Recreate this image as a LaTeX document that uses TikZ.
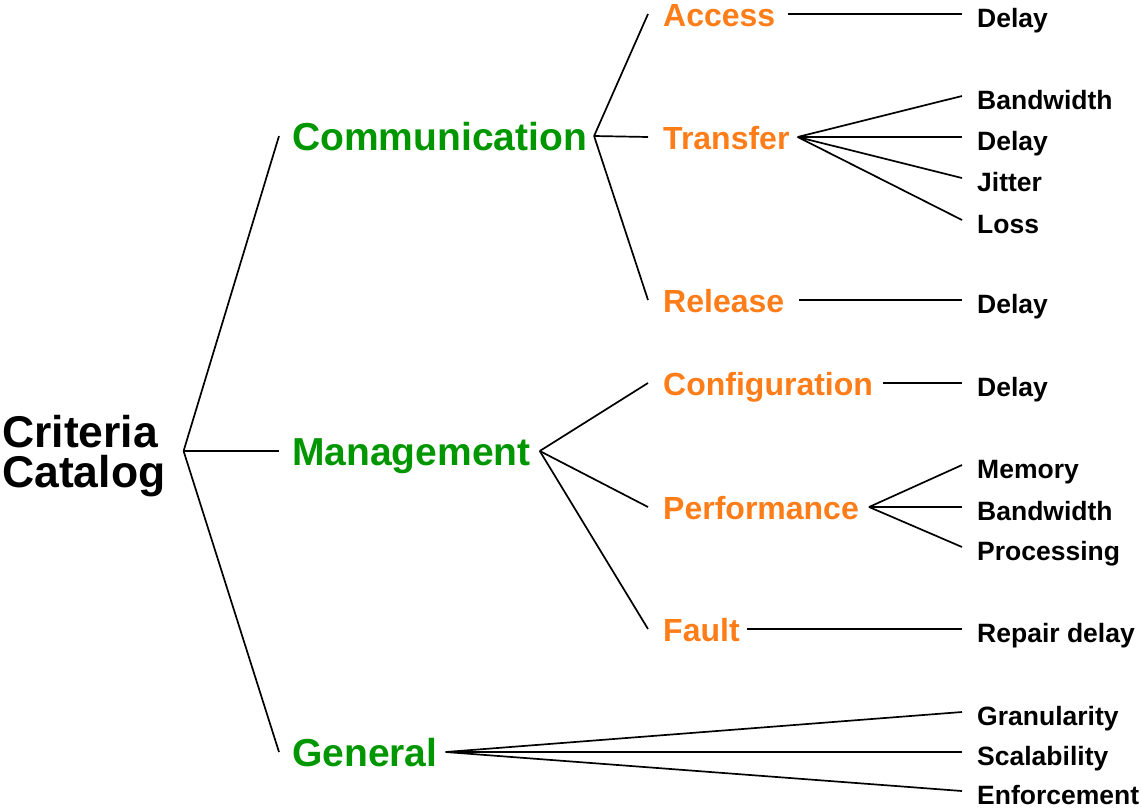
\documentclass[tikz,border=0pt]{standalone}
\usepackage{fontspec}
\setmainfont{Liberation Sans}
\usetikzlibrary{positioning, calc}
\definecolor{catgreen}{RGB}{0,150,0}
\definecolor{catorange}{RGB}{255,125,25}

\tikzset{
    root/.style={font={\fontsize{44.5}{40}\selectfont\bfseries}, align=left, inner sep=0pt, anchor=west},
    area/.style={font={\fontsize{39}{44}\selectfont\bfseries}, text=catgreen, text height=28pt, text depth=0pt, inner sep=0pt, anchor=west},
    phase/.style={font={\fontsize{32}{36}\selectfont\bfseries}, text=catorange, text height=23pt, text depth=0pt, inner sep=0pt, anchor=west},
    leaf/.style={font={\fontsize{26.5}{30}\selectfont\bfseries}, text height=26pt, text depth=0pt, inner sep=0pt, anchor=west},
    branch/.style={draw, line width=1.7pt}
}

\begin{document}
\begin{tikzpicture}[x=1pt, y=-1pt]
    \useasboundingbox (0,0) rectangle (1142,809);

    \node[root] (cc) at (2,456) {Criteria\\Catalog};

    \node[area] (comm) at (292,136) {Communication};
    \node[area] (mgmt) at (292,451) {Management};
    \node[area] (gen) at (292,752) {General};

    \node[phase] (acc) at (663,15) {Access};
    \node[phase] (tra) at (663,138) {Transfer};
    \node[phase] (rel) at (663,301) {Release};
    \node[phase] (conf) at (663,384) {Configuration};
    \node[phase] (perf) at (663,508) {Performance};
    \node[phase] (fault) at (663,630) {Fault};

    \node[leaf] (accD) at (977,14) {Delay};
    \node[leaf] (traB) at (977,96) {Bandwidth};
    \node[leaf] (traD) at (977,137) {Delay};
    \node[leaf] (traJ) at (977,178) {Jitter};
    \node[leaf] (traL) at (977,220) {Loss};
    \node[leaf] (relD) at (977,300) {Delay};
    \node[leaf] (confD) at (977,383) {Delay};
    \node[leaf] (perfM) at (977,465) {Memory};
    \node[leaf] (perfB) at (977,507) {Bandwidth};
    \node[leaf] (perfP) at (977,547) {Processing};
    \node[leaf] (faultR) at (977,629) {Repair delay};
    \node[leaf] (genG) at (977,712) {Granularity};
    \node[leaf] (genS) at (977,752) {Scalability};
    \node[leaf] (genE) at (977,791) {Enforcement};

    \path[branch]
    ([shift={(18pt,5pt)}]cc.east) edge ([xshift=-13pt]comm.west)
        edge ([xshift=-13pt]mgmt.west)
        edge ([xshift=-13pt]gen.west)
    ([xshift=7pt]comm.east) edge ([shift={(-15pt,1pt)}]acc.west)
        edge ([shift={(-15pt,1pt)}]tra.west)
        edge ([shift={(-15pt,1pt)}]rel.west)
    ([xshift=9pt]mgmt.east) edge ([shift={(-15pt,1pt)}]conf.west)
        edge ([shift={(-15pt,1pt)}]perf.west)
        edge ([shift={(-15pt,1pt)}]fault.west)
    ([xshift=8pt]gen.east) edge ([xshift=-15pt]genG.west)
        edge ([xshift=-15pt]genS.west)
        edge ([xshift=-15pt]genE.west)
    ([shift={(12pt,1pt)}]acc.east) edge ([xshift=-15pt]accD.west)
    ([shift={(8pt,1pt)}]tra.east) edge ([xshift=-15pt]traB.west)
        edge ([xshift=-15pt]traD.west)
        edge ([xshift=-15pt]traJ.west)
        edge ([xshift=-15pt]traL.west)
    ([shift={(15pt,1pt)}]rel.east) edge ([xshift=-15pt]relD.west)
    ([shift={(10pt,1pt)}]conf.east) edge ([xshift=-15pt]confD.west)
    ([shift={(10pt,1pt)}]perf.east) edge ([xshift=-15pt]perfM.west)
        edge ([xshift=-15pt]perfB.west)
        edge ([xshift=-15pt]perfP.west)
    ([shift={(7pt,1pt)}]fault.east) edge ([xshift=-15pt]faultR.west)
    ;
\end{tikzpicture}
\end{document}
